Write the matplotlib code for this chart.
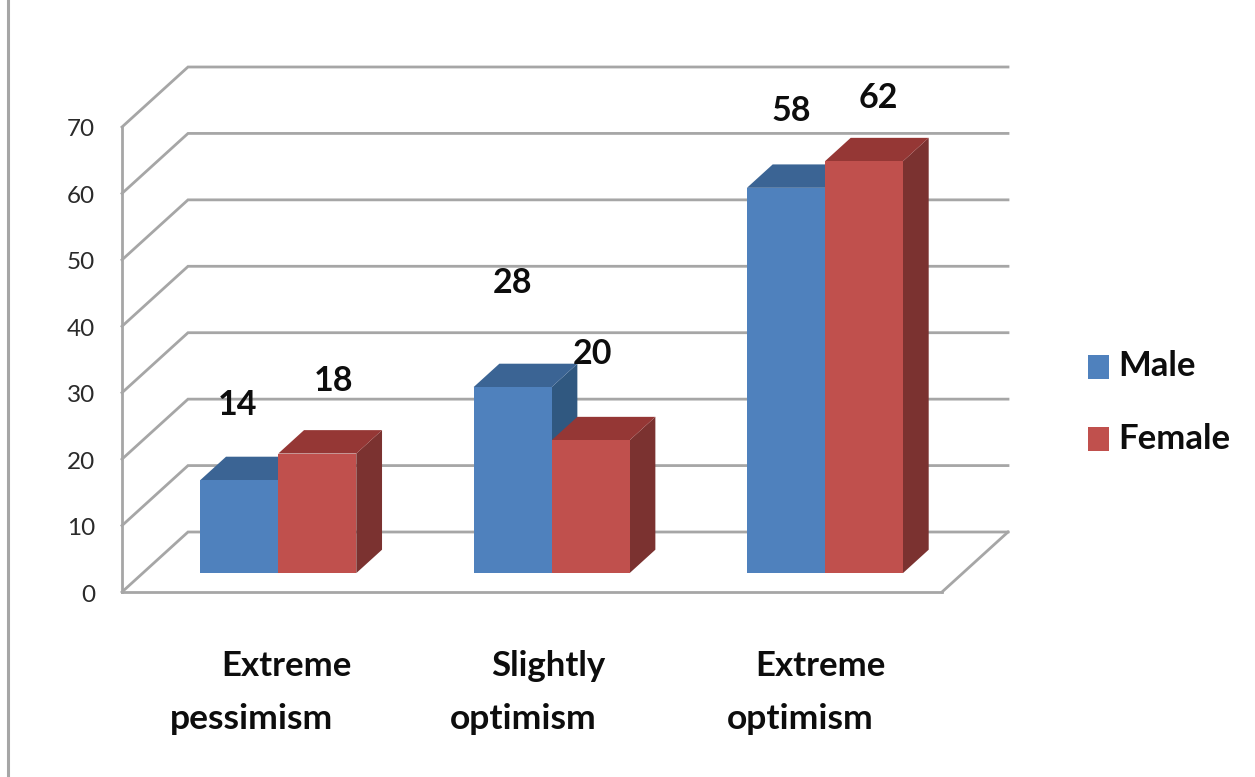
import matplotlib
matplotlib.use("Agg")
import matplotlib.pyplot as plt
from matplotlib.patches import Polygon

categories = [["Extreme", "pessimism"], ["Slightly", "optimism"], ["Extreme", "optimism"]]
male = [14, 28, 58]
female = [18, 20, 62]
yticks = [0, 10, 20, 30, 40, 50, 60, 70]
series_names = ["Male", "Female"]

W, H = 1255, 777
fig = plt.figure(figsize=(W / 100, H / 100), dpi=100, facecolor="white")
ax = fig.add_axes([122 / W, 1 - 592 / H, 820 / W, 465 / H])
ax.set_xlim(0, 3)
ax.set_ylim(0, 70)
ax.axis("off")
font = "Lato"
INK = "#0d0d0d"

# depth vector of the pseudo-3D box, in data units
DX, DY = 66 / (820 / 3), 60 / (465 / 70)
def P(x, y, d=0.0):
    return (x + d * DX, y + d * DY)

GRID = "#a6a6a6"
LW = 2.0
for v in yticks:
    ax.plot(*zip(P(0, v), P(0, v, 1), P(3, v, 1)), color=GRID, lw=LW, clip_on=False, solid_joinstyle="miter")
ax.plot(*zip(P(3, 0), P(3, 0, 1)), color=GRID, lw=LW, clip_on=False)
ax.plot([0, 3], [0, 0], color=GRID, lw=LW, clip_on=False)
ax.plot([0, 0], [0, 70], color=GRID, lw=LW, clip_on=False)

for v in yticks:
    ax.annotate(str(v), (0, v), xytext=(-27, -3), textcoords="offset pixels", ha="right", va="center",
                fontsize=17.5, color="#2a2a2a", family=font)

def bar(x0, w, h, front, top, side):
    d0, d1 = 0.315, 0.705
    ax.add_patch(Polygon([P(x0 + w, 0, d0), P(x0 + w, 0, d1), P(x0 + w, h, d1), P(x0 + w, h, d0)], fc=side, ec="none", clip_on=False, zorder=3))
    ax.add_patch(Polygon([P(x0, h, d0), P(x0, h, d1), P(x0 + w, h, d1), P(x0 + w, h, d0)], fc=top, ec="none", clip_on=False, zorder=3))
    ax.add_patch(Polygon([P(x0, 0, d0), P(x0 + w, 0, d0), P(x0 + w, h, d0), P(x0, h, d0)], fc=front, ec="none", clip_on=False, zorder=4))

BW = 78 / (820 / 3)
GAP = 57.5 / (820 / 3)
BLUE = ("#4f81bd", "#3b6494", "#305880")
RED = ("#c0504d", "#953735", "#7b3230")
for i in range(3):
    bar(i + GAP, BW, male[i], *BLUE)
    bar(i + GAP + BW, BW, female[i], *RED)

# text overlay in pixels
lax = fig.add_axes([0, 0, 1, 1], facecolor="none")
lax.set_xlim(0, W)
lax.set_ylim(H, 0)
lax.axis("off")
male_pos = [(238, 405), (512, 283), (791, 111)]
female_pos = [(334, 381), (592, 354), (878, 98)]
for i in range(3):
    lax.text(*male_pos[i], str(male[i]), ha="center", va="center", fontsize=24.5, fontweight="bold", family=font, color=INK)
    lax.text(*female_pos[i], str(female[i]), ha="center", va="center", fontsize=24.5, fontweight="bold", family=font, color=INK)

line1 = [(286, 666), (548, 666), (820, 666)]
line2 = [(252, 719), (523, 719), (800, 719)]
for i, (a, b) in enumerate(categories):
    lax.text(*line1[i], a, ha="center", va="center", fontsize=25, fontweight="bold", family=font, color=INK)
    lax.text(*line2[i], b, ha="center", va="center", fontsize=25.5, fontweight="bold", family=font, color=INK)

lax.add_patch(plt.Rectangle((1088, 355), 21, 24, fc=BLUE[0], ec="none"))
lax.add_patch(plt.Rectangle((1088, 427), 21, 24, fc=RED[0], ec="none"))
lax.text(1118, 366, series_names[0], va="center", fontsize=25, fontweight="bold", family=font, color=INK)
lax.text(1118, 439, series_names[1], va="center", fontsize=25, fontweight="bold", family=font, color=INK)
lax.plot([8, 8], [0, H], color="#a6a6a6", lw=2.2)

fig.savefig("out.png", dpi=100)
